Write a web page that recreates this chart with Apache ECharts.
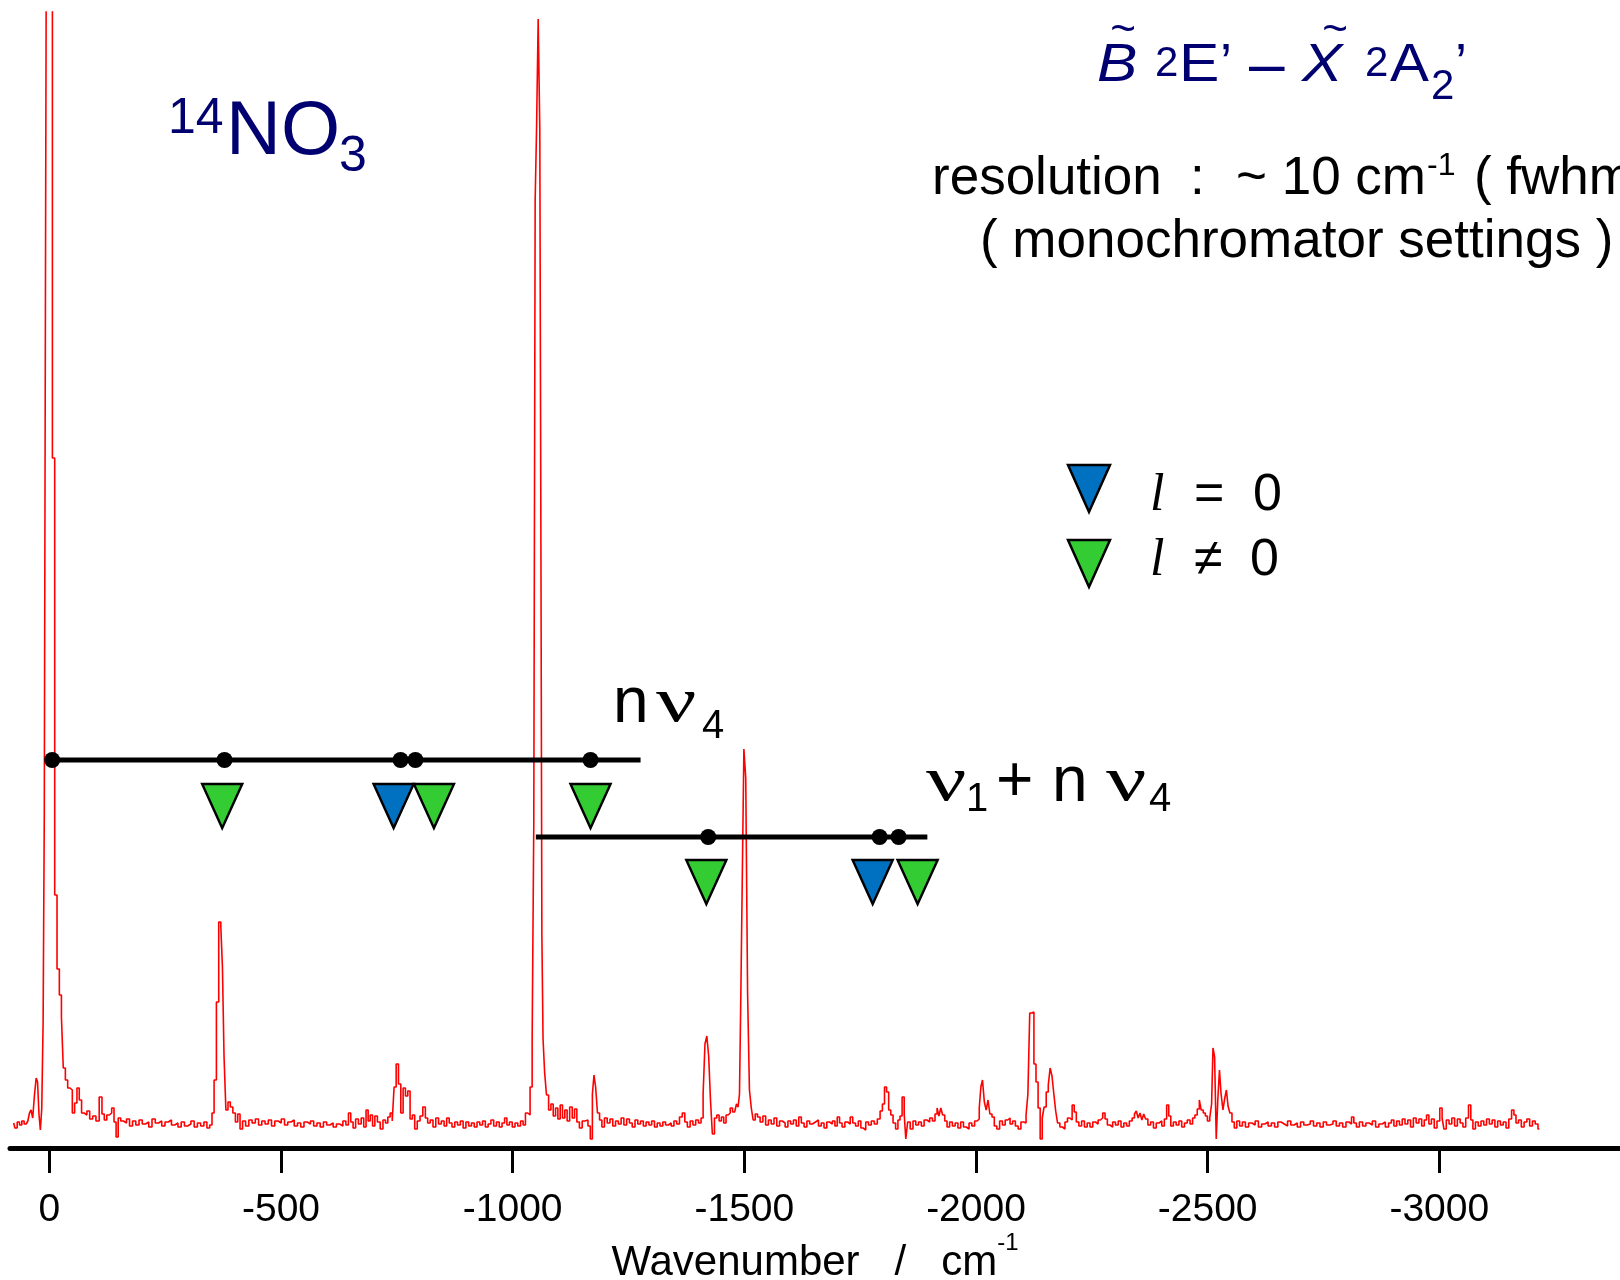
<!DOCTYPE html>
<html>
<head>
<meta charset="utf-8">
<title>NO3 B-X spectrum</title>
<script src="https://cdn.jsdelivr.net/npm/echarts@6/dist/echarts.min.js"></script>
<style>
html, body { margin: 0; padding: 0; background: #fff; }
#chart { width: 1620px; height: 1280px; }
</style>
</head>
<body>
<div id="chart"></div>
<script>
// emission spectrum, [shift cm-1, intensity] (baseline = 0)
var spectrum = [
	[77,0.1],[72,-0.4],[67,0.2],[62,-0.1],[57,0.3],[52,0.0],[48,0.2],[45,0.3],[41,1.1],[38,1.4],[34,0.6],[30,3.0],[27,4.6],[24,4.2],[21,1.0],[18,-0.6],[15,1.5],[12,10.3],[10,31],[7,83],[4,140],[0,150],[-4,140],[-9,66.6],[-14,22.9],[-19,15.5],[-24,12.9],[-28,10.7],[-32,5.6],[-37,4.4],[-42,3.6],[-47,3.4],[-52,1.1],[-57,2.1],[-62,3.6],[-67,2.4],[-72,1.1],[-78,0.9],[-84,1.3],[-90,0.5],[-97,0.8],[-104,0.3],[-111,2.7],[-116,1.0],[-121,0.4],[-127,0.9],[-132,1.1],[-137,1.6],[-142,0.2],[-146,-1.3],[-151,0.6],[-157,0.3],
	[-163,0.1],[-170,0.5],[-176,-0.2],[-183,0.3],[-190,-0.1],[-197,0.4],[-204,0.0],[-211,0.2],[-218,-0.3],[-225,0.5],[-232,0.1],[-239,0.3],[-246,-0.2],[-253,0.2],[-260,0.4],[-267,-0.1],[-274,0.1],[-281,-0.3],[-288,0.2],[-295,-0.2],[-302,0.0],[-309,0.3],[-316,-0.3],[-323,0.1],[-330,-0.2],[-337,0.2],[-343,-0.4],[-349,-0.1],
	[-353,1.1],[-358,4.4],[-363,12.2],[-368,20.2],[-372,19.8],[-375,15.7],[-379,6.7],[-383,1.4],[-388,2.2],[-393,1.7],[-399,1.1],[-404,0.2],[-409,1.0],[-414,-0.5],
	[-420,0.3],[-427,-0.2],[-434,0.4],[-441,0.1],[-448,0.5],[-455,-0.1],[-462,0.3],[-469,0.0],[-476,0.4],[-483,-0.2],[-490,0.3],[-497,0.1],[-504,0.5],[-511,-0.1],[-518,0.2],[-525,0.4],[-532,-0.2],[-539,0.1],[-546,-0.3],[-553,0.2],[-560,0.0],[-567,0.3],[-574,-0.2],[-581,0.1],[-588,-0.3],[-595,0.2],[-602,-0.1],[-609,0.1],[-616,-0.3],[-623,0.0],[-630,-0.2],[-637,0.3],[-643,-0.1],[-648,1.1],[-653,0.2],[-658,-0.4],[-664,0.5],[-670,0.0],[-676,0.6],[-681,-0.3],[-686,1.4],[-690,0.3],[-695,0.9],[-700,-0.2],[-705,0.8],[-711,0.2],[-717,-0.5],[-723,0.4],[-728,0.1],[-733,0.7],[-738,1.1],[-742,0.3],
	[-746,3.7],[-751,6.0],[-756,4.0],[-761,1.1],[-766,3.6],[-771,2.8],[-776,3.3],[-781,0.5],[-786,0.9],[-791,-0.5],[-797,0.3],[-803,0.8],[-809,1.7],[-814,0.6],[-819,0.1],[-825,0.4],[-831,-0.3],[-837,0.6],[-843,0.0],[-849,0.3],[-855,-0.2],[-860,0.6],[-866,0.1],[-872,-0.3],[-878,0.2],[-884,-0.1],[-890,0.3],[-896,-0.4],[-902,0.2],[-908,-0.2],[-914,0.1],[-920,-0.3],[-926,0.2],[-932,-0.1],[-938,0.3],[-944,-0.3],[-950,0.0],[-956,0.4],[-962,-0.2],[-968,0.2],[-974,-0.3],[-980,0.1],[-985,0.6],[-990,-0.1],[-996,0.2],[-1002,-0.3],[-1008,0.1],[-1014,-0.2],[-1020,0.3],[-1025,-0.1],[-1030,1.1],[-1035,0.9],
	[-1040,3.7],[-1044,8.5],[-1047,29.9],[-1050,92.4],[-1053,99.5],[-1057,110.5],[-1060,99.5],[-1062,56.6],[-1064,18.8],[-1067,8.5],[-1071,5.1],[-1075,2.9],[-1080,1.4],[-1085,2.0],[-1090,0.8],[-1095,1.6],[-1100,0.5],[-1105,1.9],[-1110,0.6],[-1115,1.4],[-1120,0.3],[-1126,1.7],[-1131,0.6],[-1136,1.5],[-1141,0.2],[-1147,-0.4],[-1153,0.3],[-1160,0.4],[-1165,-0.2],[-1170,-1.5],[-1174,3.0],[-1177,4.9],[-1181,3.7],[-1185,1.1],[-1190,0.4],[-1195,-0.3],[-1201,0.6],[-1207,0.1],[-1213,0.5],[-1219,-0.2],[-1225,0.3],[-1231,0.0],[-1237,0.6],[-1243,-0.1],[-1249,0.5],[-1255,0.1],[-1261,-0.3],[-1267,0.4],[-1273,0.0],[-1279,0.3],[-1285,-0.2],[-1291,0.2],[-1297,-0.1],[-1303,0.3],[-1309,-0.3],[-1315,0.1],[-1321,-0.2],[-1327,0.2],[-1333,-0.1],[-1339,0.1],[-1345,-0.2],[-1351,0.3],[-1357,0.0],[-1363,0.7],[-1369,1.1],[-1374,0.2],[-1380,-0.3],[-1386,0.3],[-1392,-0.1],[-1398,0.4],[-1404,0.1],[-1409,0.6],
	[-1413,3.0],[-1417,8.0],[-1421,8.8],[-1425,6.8],[-1429,2.3],[-1433,-1.0],[-1438,0.6],[-1443,0.9],[-1448,0.3],[-1453,0.7],[-1458,0.1],[-1463,0.9],[-1467,1.1],[-1472,1.6],[-1477,1.2],[-1481,1.4],[-1485,2.0],[-1488,1.7],
	[-1491,3.0],[-1494,13.2],[-1497,24.4],[-1501,37.5],[-1505,34.6],[-1509,13.1],[-1513,3.4],[-1517,1.6],[-1521,0.4],[-1526,1.0],[-1531,0.7],[-1537,0.2],[-1543,0.8],[-1549,-0.1],[-1555,0.4],[-1561,0.0],[-1567,0.6],[-1573,-0.2],[-1579,0.3],[-1585,0.1],[-1591,-0.3],[-1597,0.3],[-1603,0.0],[-1609,0.4],[-1615,-0.2],[-1620,0.7],[-1626,0.1],[-1632,-0.3],[-1638,0.3],[-1644,0.0],[-1650,0.2],[-1657,0.4],[-1663,-0.2],[-1669,0.1],[-1675,-0.4],[-1681,0.2],[-1687,0.0],[-1693,0.3],[-1698,-0.2],[-1703,0.7],[-1708,0.1],[-1714,-0.3],[-1720,0.2],[-1726,0.0],[-1731,0.7],[-1737,0.1],[-1743,-0.2],[-1749,0.3],[-1754,-0.4],[-1759,-0.6],[-1765,0.2],[-1771,-0.1],[-1777,0.3],[-1784,0.0],[-1790,0.5],[-1796,1.3],[-1800,2.0],[-1805,3.7],[-1809,3.2],[-1814,1.4],[-1818,0.9],[-1824,0.1],[-1829,-0.5],[-1834,0.4],[-1838,0.8],[-1843,2.7],[-1847,1.0],[-1850,-1.5],[-1855,0.2],[-1861,-0.5],[-1867,0.3],[-1873,-0.1],[-1879,0.2],[-1885,-0.2],[-1891,0.4],[-1897,0.2],[-1903,0.6],[-1909,0.3],[-1914,1.0],[-1918,1.6],[-1922,0.8],[-1926,1.6],[-1930,0.9],[-1935,0.3],[-1940,-0.3],[-1946,0.2],[-1952,-0.2],[-1958,0.1],[-1964,-0.4],[-1970,0.2],[-1976,-0.3],[-1982,-0.5],[-1988,0.1],[-1994,-0.2],[-2000,0.3],[-2005,0.5],[-2009,1.6],[-2012,3.7],[-2016,4.4],[-2020,2.2],[-2024,1.4],[-2028,2.4],[-2032,1.0],[-2037,0.7],[-2042,-0.2],[-2048,-0.5],[-2054,0.3],[-2060,-0.1],[-2066,0.4],[-2071,0.6],[-2076,0.0],[-2082,0.3],[-2088,-0.2],[-2094,-0.5],[-2100,0.2],[-2106,0.1],[-2110,0.9],
	[-2114,3.0],[-2118,11.1],[-2123,11.2],[-2127,6.0],[-2132,4.2],[-2136,1.6],[-2141,-1.5],[-2145,0.6],[-2149,1.7],[-2154,3.2],[-2158,3.9],[-2162,5.6],[-2166,4.8],[-2170,3.0],[-2174,1.3],[-2178,0.1],[-2184,-0.3],[-2189,-0.5],[-2195,0.2],[-2200,0.6],[-2205,0.4],[-2210,1.9],[-2214,1.2],[-2219,0.2],[-2225,-0.2],[-2231,0.3],[-2237,-0.3],[-2243,0.1],[-2249,-0.3],[-2255,0.2],[-2261,0.0],[-2266,0.4],[-2271,0.6],[-2276,1.1],[-2281,0.5],[-2286,-0.1],[-2292,-0.3],[-2298,0.2],[-2304,-0.1],[-2310,0.3],[-2316,-0.3],[-2322,0.1],[-2328,-0.2],[-2334,0.3],[-2340,0.6],[-2344,1.0],[-2348,1.3],[-2352,0.6],[-2356,1.1],[-2360,0.4],[-2364,1.0],[-2368,0.5],[-2374,-0.1],[-2380,0.2],[-2386,-0.4],[-2392,0.1],[-2398,0.3],[-2404,-0.2],[-2409,0.5],[-2414,1.9],[-2418,0.8],[-2423,-0.2],[-2429,0.2],[-2435,-0.1],[-2441,0.3],[-2447,-0.3],[-2453,0.1],[-2459,0.4],[-2465,0.0],[-2470,0.6],[-2475,0.9],[-2480,1.5],[-2484,2.4],[-2488,1.4],[-2493,1.1],[-2497,0.8],[-2502,0.3],[-2507,0.6],
	[-2510,2.0],[-2513,7.6],[-2517,6.7],[-2520,-1.5],[-2524,2.5],[-2527,5.4],[-2531,3.0],[-2535,1.4],[-2539,2.6],[-2542,3.4],[-2546,1.8],[-2550,1.1],[-2555,0.2],[-2560,-0.4],[-2566,0.3],[-2572,-0.2],
	[-2578,0.2],[-2585,-0.3],[-2592,0.1],[-2599,-0.1],[-2606,0.3],[-2613,-0.3],[-2620,0.0],[-2627,0.2],[-2634,-0.2],[-2641,0.1],[-2648,-0.3],[-2655,0.2],[-2662,0.0],[-2669,-0.2],[-2676,0.3],[-2683,-0.1],[-2690,0.1],[-2697,-0.3],[-2704,0.2],[-2711,-0.1],[-2718,0.0],[-2725,0.3],[-2732,-0.2],[-2739,0.1],[-2746,-0.3],[-2753,0.2],[-2760,-0.1],[-2767,0.0],[-2774,0.3],[-2781,-0.2],[-2788,0.1],[-2795,-0.3],[-2802,0.2],[-2808,0.0],[-2813,0.7],[-2818,0.1],[-2824,-0.3],[-2831,0.2],[-2838,-0.2],[-2845,0.1],[-2852,-0.1],[-2859,0.3],[-2866,-0.3],[-2873,0.0],[-2880,0.2],[-2887,-0.3],[-2894,0.1],[-2899,0.4],[-2905,-0.2],[-2911,0.3],[-2917,-0.1],[-2923,0.5],[-2929,0.0],[-2935,0.4],[-2941,-0.3],[-2947,0.6],[-2953,0.1],[-2959,0.5],[-2965,-0.2],[-2970,0.4],[-2975,0.9],[-2980,0.0],[-2986,0.5],[-2992,-0.4],[-2998,0.3],[-3004,1.6],[-3008,0.6],[-3012,-0.5],[-3018,0.4],[-3024,0.0],[-3030,0.6],[-3036,-0.2],[-3042,0.5],[-3048,0.1],[-3054,-0.3],[-3060,0.6],[-3066,1.9],[-3070,0.4],[-3075,-0.5],[-3081,0.2],[-3087,-0.2],[-3093,0.3],[-3099,-0.1],[-3105,0.5],[-3111,0.0],[-3117,0.4],[-3123,-0.3],[-3129,0.3],[-3135,-0.1],[-3141,0.2],[-3147,-0.4],[-3153,0.5],[-3159,1.4],[-3163,0.9],[-3168,0.1],[-3174,0.4],[-3180,-0.3],[-3186,0.2],[-3192,0.5],[-3198,-0.2],[-3204,0.3],[-3210,0.0],[-3216,-0.5]
];

// progression n v4 (calc. positions = dots, observed = triangles)
var combA = [-6, -1276];          // line extent
var combADots = [-6, -378, -758, -790, -1168];
var combAGreen = [-373, -830, -1168];
var combABlue = [-743];
var combALevel = 36.4, combATri = 31.8;

// progression v1 + n v4
var combB = [-1050, -1895];
var combBDots = [-1422, -1792, -1833];
var combBGreen = [-1418, -1874];
var combBBlue = [-1777];
var combBLevel = 28.7, combBTri = 24.2;

var tickValues = [0, -500, -1000, -1500, -2000, -2500, -3000];

var blue = '#0070c0', green = '#33cc33', navy = '#000070';
var sans = "'Liberation Sans', Arial, sans-serif";
var serif = "'Liberation Serif', 'Times New Roman', serif";
var tri = 'path://M0,0L42,0L21,46Z';

function at(list, level) {
	return list.map(function (v) { return [v, level]; });
}

// text helper, y is the middle of the em box
function txt(s, x, y, size, opt) {
	opt = opt || {};
	return {
		type: 'text', x: x, y: y, z: 100,
		scaleX: opt.sx || 1,
		style: {
			text: s,
			fill: opt.fill || '#000',
			fontSize: size,
			fontFamily: opt.family || sans,
			fontStyle: opt.italic ? 'italic' : 'normal',
			align: opt.align || 'left',
			verticalAlign: 'middle'
		}
	};
}

var labels = [
	// 14NO3
	txt('14', 168, 119, 50, { fill: navy }),
	txt('NO', 226, 133, 76, { fill: navy }),
	txt('3', 339, 157, 50, { fill: navy }),
	// B~ 2E' - X~ 2A2'
	txt('B', 1097, 66, 54, { fill: navy, italic: true, sx: 1.12 }),
	txt('~', 1123, 31, 44, { fill: navy, align: 'center' }),
	txt('2', 1155, 64, 42, { fill: navy }),
	txt('E', 1179, 66, 54, { fill: navy, sx: 1.12 }),
	txt('\u2019', 1220, 66, 54, { fill: navy }),
	txt('\u2013', 1249, 67, 64, { fill: navy }),
	txt('X', 1302, 66, 54, { fill: navy, italic: true, sx: 1.12 }),
	txt('~', 1335, 31, 44, { fill: navy, align: 'center' }),
	txt('2', 1365, 64, 42, { fill: navy }),
	txt('A', 1390, 66, 54, { fill: navy, sx: 1.08 }),
	txt('2', 1431, 87, 42, { fill: navy }),
	txt('\u2019', 1455, 66, 54, { fill: navy }),
	// resolution
	txt('resolution', 932, 179, 53),
	txt(':', 1190, 179, 53),
	txt('~ 10 cm', 1236, 179, 53),
	txt('-1', 1427, 166, 32),
	txt('( fwhm )', 1474, 179, 53),
	txt('( monochromator settings )', 980, 242, 53),
	// comb labels
	txt('n', 613, 704, 64),
	txt('\u03bd', 656, 704, 64, { family: serif, sx: 1.4 }),
	txt('4', 702, 727, 40),
	txt('\u03bd', 926, 783, 64, { family: serif, sx: 1.4 }),
	txt('1', 966, 800, 40),
	txt('+', 996, 783, 64),
	txt('n', 1052, 783, 64),
	txt('\u03bd', 1106, 783, 64, { family: serif, sx: 1.4 }),
	txt('4', 1149, 800, 40),
	// legend
	{ type: 'polygon', z: 100, shape: { points: [[1068, 465], [1110, 465], [1089, 512]] }, style: { fill: blue, stroke: '#000', lineWidth: 2.5 } },
	{ type: 'polygon', z: 100, shape: { points: [[1068, 540], [1110, 540], [1089, 587]] }, style: { fill: green, stroke: '#000', lineWidth: 2.5 } },
	txt('l', 1150, 496, 52, { italic: true, family: serif }),
	txt('=', 1194, 496, 52),
	txt('0', 1253, 496, 52),
	txt('l', 1150, 561, 52, { italic: true, family: serif }),
	txt('\u2260', 1194, 561, 52),
	txt('0', 1250, 561, 52)
];

function combLine(ext, level) {
	return {
		type: 'line', data: at(ext, level), symbol: 'none', z: 5,
		lineStyle: { color: '#000', width: 5 }, silent: true
	};
}
function dots(list, level) {
	return {
		type: 'scatter', data: at(list, level), symbol: 'circle', symbolSize: 16, z: 6,
		itemStyle: { color: '#000', opacity: 1 }, silent: true
	};
}
function triangles(name, list, level, color) {
	return {
		name: name, type: 'scatter', data: at(list, level), symbol: tri, symbolSize: [40, 44], z: 7,
		itemStyle: { color: color, borderColor: '#000', borderWidth: 2.5, opacity: 1 }, silent: true
	};
}

var chart = echarts.init(document.getElementById('chart'));
var option = {
	animation: false,
	backgroundColor: '#fff',
	grid: { left: 10, right: 0, top: 12, bottom: 132, outerBoundsMode: 'none' },
	xAxis: {
		type: 'value',
		inverse: true,
		min: -3390,
		max: 85,
		splitLine: { show: false },
		axisLine: { onZero: false, lineStyle: { color: '#000', width: 5 } },
		axisTick: { show: true, customValues: tickValues, length: 25, lineStyle: { color: '#000', width: 3 } },
		axisLabel: {
			customValues: tickValues, margin: 43, color: '#000', fontSize: 39, fontFamily: sans,
			formatter: function (v) { return String(v); }
		},
		name: 'Wavenumber   /   cm{sup|-1}',
		nameLocation: 'middle',
		nameGap: 83,
		nameMoveOverlap: false,
		nameTextStyle: {
			color: '#000', fontSize: 42, fontFamily: sans, lineHeight: 64,
			rich: { sup: { fontSize: 24, fontFamily: sans, color: '#000', verticalAlign: 'top', lineHeight: 24 } }
		}
	},
	yAxis: { type: 'value', min: -2.4, max: 111.2, show: false },
	series: [
		{
			type: 'line', data: spectrum, step: 'middle', symbol: 'none', z: 2, clip: true,
			lineStyle: { color: '#ff0000', width: 1.6 }, silent: true
		},
		combLine(combA, combALevel),
		combLine(combB, combBLevel),
		dots(combADots, combALevel),
		dots(combBDots, combBLevel),
		triangles('l = 0', combABlue, combATri, blue),
		triangles('l \u2260 0', combAGreen, combATri, green),
		triangles('l = 0', combBBlue, combBTri, blue),
		triangles('l \u2260 0', combBGreen, combBTri, green)
	],
	graphic: labels
};
chart.setOption(option);
</script>
</body>
</html>
